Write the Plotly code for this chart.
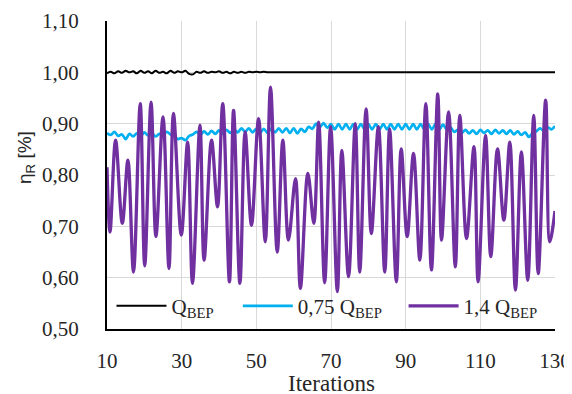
import plotly.graph_objects as go

# ---- data ----
iters = list(range(10, 131))

q_bep = [0.998, 1.001, 0.998, 1.002, 0.999, 1.003, 1.000, 1.002, 0.998, 1.003,
         0.999, 1.002, 0.998, 1.003, 0.999, 1.001, 0.998, 1.003, 0.999, 1.002,
         1.000, 1.003, 0.997, 0.996, 1.001, 0.999, 1.002, 0.999, 1.001, 1.000,
         1.002, 0.999, 1.001, 0.998, 1.001, 0.999, 1.001, 0.999, 1.001, 1.000,
         1.001, 1.000, 1.001, 1.000] + [1.000] * 77

q_075 = [0.882, 0.878, 0.884, 0.876, 0.879, 0.870, 0.880, 0.875, 0.881, 0.876,
         0.883, 0.877, 0.882, 0.875, 0.880, 0.878, 0.884, 0.879, 0.876, 0.870,
         0.872, 0.868, 0.876, 0.879, 0.884, 0.878, 0.885, 0.879, 0.886, 0.880,
         0.887, 0.880, 0.888, 0.882, 0.889, 0.883, 0.891, 0.884, 0.891, 0.883,
         0.890, 0.882, 0.890, 0.882, 0.891, 0.883, 0.891, 0.883, 0.891, 0.882,
         0.891, 0.881, 0.890, 0.884, 0.894, 0.890, 0.900, 0.893, 0.901, 0.892,
         0.899, 0.889, 0.899, 0.889, 0.899, 0.889, 0.899, 0.889, 0.899, 0.889,
         0.899, 0.889, 0.899, 0.889, 0.899, 0.889, 0.899, 0.889, 0.899, 0.889,
         0.899, 0.889, 0.899, 0.889, 0.899, 0.889, 0.899, 0.889, 0.899, 0.889,
         0.898, 0.889, 0.893, 0.884, 0.888, 0.882, 0.888, 0.881, 0.887, 0.880,
         0.888, 0.882, 0.887, 0.880, 0.888, 0.881, 0.887, 0.880, 0.887, 0.879,
         0.885, 0.878, 0.883, 0.874, 0.882, 0.885, 0.891, 0.886, 0.893, 0.889,
         0.895]

q14_x = [10, 10.8, 12.3, 14.1, 15.6, 17.1, 18.9, 20.1, 21.8, 23.1, 25.0, 26.6,
         27.8, 29.9, 31.6, 32.9, 34.9, 36.0, 38.0, 39.6, 41.0, 42.8, 43.9, 45.6,
         47.0, 48.7, 50.6, 52.4, 53.8, 55.6, 57.1, 58.6, 60.5, 61.8, 63.8, 65.4,
         66.7, 68.3, 69.9, 71.7, 72.9, 74.7, 76.5, 77.7, 79.4, 80.8, 82.7, 84.4,
         85.7, 87.5, 88.8, 90.4, 92.1, 93.8, 95.4, 96.9, 98.6, 99.6, 101.5, 103.3,
         104.5, 106.3, 108.3, 109.4, 111.4, 112.8, 114.6, 116.3, 117.9, 119.4,
         121.0, 122.7, 124.3, 125.5, 127.5, 128.6, 130]
q14_y = [0.815, 0.689, 0.868, 0.706, 0.829, 0.611, 0.939, 0.623, 0.942, 0.680,
         0.913, 0.618, 0.920, 0.683, 0.864, 0.589, 0.897, 0.634, 0.868, 0.738,
         0.939, 0.592, 0.926, 0.589, 0.884, 0.702, 0.910, 0.670, 0.971, 0.650,
         0.868, 0.673, 0.793, 0.579, 0.803, 0.706, 0.903, 0.590, 0.894, 0.573,
         0.848, 0.602, 0.900, 0.611, 0.929, 0.686, 0.894, 0.611, 0.890, 0.592,
         0.851, 0.680, 0.842, 0.634, 0.939, 0.615, 0.958, 0.673, 0.923, 0.621,
         0.916, 0.676, 0.855, 0.592, 0.877, 0.641, 0.851, 0.712, 0.864, 0.576,
         0.845, 0.595, 0.916, 0.608, 0.946, 0.670, 0.73]

x_ticks = [10, 30, 50, 70, 90, 110, 130]
y_ticks = [0.5, 0.6, 0.7, 0.8, 0.9, 1.0, 1.1]

serif = "Liberation Serif, Times New Roman, serif"
txt = "#262626"
FS = 21

fig = go.Figure()
fig.add_trace(go.Scatter(x=iters, y=q_bep, mode="lines", name="Q<sub>BEP</sub>",
                         legend="legend",
                         line=dict(color="#000000", width=2, shape="spline", smoothing=1)))
fig.add_trace(go.Scatter(x=iters, y=q_075, mode="lines", name="0,75 Q<sub>BEP</sub>",
                         legend="legend2",
                         line=dict(color="#00B0F0", width=2.7, shape="spline", smoothing=1)))
fig.add_trace(go.Scatter(x=q14_x, y=q14_y, mode="lines", name="1,4 Q<sub>BEP</sub>",
                         legend="legend3",
                         line=dict(color="#7030A0", width=3.3, shape="spline", smoothing=1)))

leg_common = dict(orientation="h", y=0.074, xanchor="left", yanchor="middle",
                  bgcolor="rgba(0,0,0,0)", font=dict(family=serif, size=21, color=txt),
                  borderwidth=0, itemwidth=50)

# page body has an 8px default margin, so the figure is 8px smaller each way
fig.update_layout(
    width=564, height=386,
    margin=dict(l=99, r=17, t=13, b=65, autoexpand=False),
    paper_bgcolor="white", plot_bgcolor="white",
    separators=",.",
    font=dict(family=serif, size=FS, color=txt),
    showlegend=True,
    legend=dict(x=0.01, **leg_common),
    legend2=dict(x=0.292, **leg_common),
    legend3=dict(x=0.662, **leg_common),
    annotations=[
        dict(text="η<sub>R</sub> [%]", textangle=-90, showarrow=False,
             xref="paper", yref="paper", x=-0.181, y=0.558,
             xanchor="center", yanchor="middle",
             font=dict(family="Liberation Sans, Arial, sans-serif", size=19, color=txt)),
        dict(text="Iterations", showarrow=False,
             xref="paper", yref="paper", x=0.5, y=-0.178,
             xanchor="center", yanchor="middle",
             font=dict(family=serif, size=23, color=txt)),
    ],
)
fig.update_xaxes(
    range=[10, 130], tickvals=x_ticks, ticktext=[str(v) for v in x_ticks],
    showgrid=True, gridcolor="#d9d9d9", gridwidth=1,
    showline=True, linecolor="#000000", linewidth=2,
    ticks="", ticklabelstandoff=12, zeroline=False, automargin=False,
    tickfont=dict(family=serif, size=FS, color=txt),
)
fig.update_yaxes(
    range=[0.5, 1.1], tickvals=y_ticks, tickformat=".2f",
    showgrid=True, gridcolor="#d9d9d9", gridwidth=1,
    showline=True, linecolor="#000000", linewidth=2,
    ticks="", ticklabelstandoff=22, zeroline=False, automargin=False,
    tickfont=dict(family=serif, size=FS, color=txt),
)

fig.write_html("out.html")
